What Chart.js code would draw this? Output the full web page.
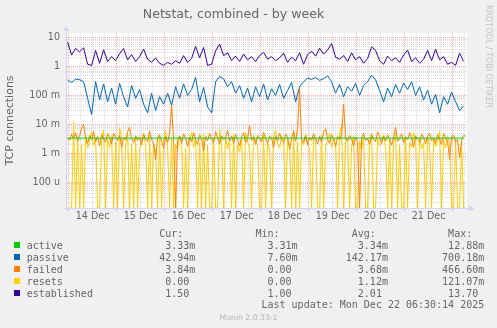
<!DOCTYPE html>
<html>
<head>
<meta charset="utf-8">
<script src="https://cdn.jsdelivr.net/npm/chart.js@4"></script>
<style>
  html, body { margin: 0; padding: 0; background: #f0f0f0; }
  #wrap { position: relative; width: 497px; height: 328px; overflow: hidden; }
  #chart { position: absolute; left: 0; top: 0; }
  #legend { position: absolute; left: 26.7px; top: 228px; margin: 0; font: 10px "DejaVu Sans Mono", monospace; color: #666; white-space: pre; line-height: 11.9px; }
  .sw { position: absolute; left: 14px; width: 6px; height: 6px; }
  #brand { position: absolute; left: 484px; top: 5px; writing-mode: vertical-rl; font: 8px "DejaVu Sans", sans-serif; color: #c4c4c4; white-space: nowrap; }
  #ver { position: absolute; left: 0; width: 497px; top: 313px; text-align: center; font: 7.7px "DejaVu Sans", sans-serif; color: #b4b4b4; }
</style>
</head>
<body>
<div id="wrap">
  <canvas id="chart" width="497" height="328"></canvas>
  <pre id="legend"></pre>
  <div id="brand">RRDTOOL / TOBI OETIKER</div>
  <div id="ver">Munin 2.0.33-1</div>
</div>
<script>
// hours counted from 13 Dec 00:00; some series read every 2 hours, others every hour
const sampleStart = 23.5;

const seriesNames = ['active', 'passive', 'failed', 'resets', 'established'];
const seriesColors = ['#00cc00', '#0066b3', '#ff8000', '#ffcc00', '#330099'];

// milli units, every 2 h
const active = [
  3.34, 3.33, 3.35, 3.34, 3.33, 3.36, 3.34, 3.33, 3.32, 3.34, 3.35, 3.33, 3.34, 3.34, 3.33, 3.35, 3.34, 3.32, 3.33, 3.34,
  3.35, 3.34, 3.33, 3.34, 3.36, 3.33, 3.34, 3.35, 3.33, 3.34, 3.32, 3.34, 3.35, 3.34, 3.33, 3.34, 3.35, 3.33, 3.34, 3.34,
  3.33, 3.35, 3.34, 3.33, 3.34, 3.36, 3.34, 3.33, 3.34, 3.35, 3.34, 3.33, 3.34, 3.32, 3.34, 3.35, 3.33, 3.34, 3.34, 3.33,
  3.35, 3.34, 3.33, 3.34, 3.35, 3.34, 3.33, 3.34, 3.36, 3.34, 3.33, 3.34, 3.35, 3.33, 3.34, 3.34, 3.33, 3.35, 3.34, 3.33,
  3.34, 3.35, 3.34, 3.33, 3.34, 3.34, 3.35, 3.33, 3.34, 3.34, 3.33, 3.35, 3.34, 3.33, 3.34, 3.34, 3.35, 3.33, 3.34, 3.33
];
// every 2 h
const passive = [
  0.34, 0.28, 0.37, 0.35, 0.30, 0.08, 0.022, 0.30, 0.07, 0.25, 0.06, 0.18, 0.05, 0.26, 0.09, 0.04, 0.22, 0.08, 0.16, 0.05,
  0.025, 0.12, 0.03, 0.09, 0.05, 0.12, 0.045, 0.20, 0.08, 0.25, 0.10, 0.16, 0.42, 0.06, 0.19, 0.04, 0.025, 0.30, 0.45, 0.38,
  0.20, 0.30, 0.12, 0.22, 0.08, 0.18, 0.06, 0.20, 0.09, 0.25, 0.07, 0.17, 0.10, 0.24, 0.08, 0.15, 0.28, 0.06, 0.20, 0.30,
  0.40, 0.36, 0.42, 0.33, 0.38, 0.48, 0.30, 0.12, 0.24, 0.09, 0.20, 0.14, 0.26, 0.10, 0.22, 0.30, 0.50, 0.35, 0.15, 0.06,
  0.18, 0.09, 0.24, 0.12, 0.27, 0.16, 0.30, 0.10, 0.20, 0.07, 0.15, 0.05, 0.11, 0.025, 0.09, 0.05, 0.13, 0.06, 0.03, 0.043
];
// milli units, hourly
const failed = [
  3.6, 2.8, 4.5, 3.2, 5.2, 2.6, 3.9, 7.5, 10, 3.4, 2.2, 4.1, 3.0, 5.6, 2.5, 3.8, 1.8, 4.4, 3.1, 2.4,
  4.8, 3.3, 2.1, 5.0, 3.6, 2.7, 4.2, 1.6, 3.5, 2.9, 5.4, 8.0, 3.2, 2.3, 4.0, 2.8, 3.7, 1.9, 4.6, 3.1,
  2.5, 5.8, 3.0, 2.2, 0.6, 3.4, 4.3, 2.6, 1.5, 3.8, 2.4, 5.0, 45, 3.0, 0, 2.8, 3.9, 2.2, 4.7, 3.3,
  1.7, 3.6, 2.5, 5.2, 3.0, 2.0, 4.4, 3.2, 1.2, 3.8, 2.7, 4.9, 3.1, 2.3, 5.6, 3.4, 2.1, 4.0, 2.9, 3.5,
  6.2, 2.6, 3.9, 2.2, 4.5, 3.0, 1.8, 3.6, 5.1, 2.4, 3.2, 9.0, 2.8, 3.7, 2.0, 4.2, 3.1, 2.5, 5.4, 3.3,
  2.2, 4.0, 3.4, 1.6, 3.8, 2.7, 5.0, 3.0, 2.3, 4.6, 3.5, 1.4, 3.2, 6.0, 2.6, 7.0, 180, 3.0, 2.4, 4.1,
  1.9, 3.6, 2.8, 4.8, 3.2, 2.1, 3.9, 2.5, 5.3, 7.0, 3.0, 2.2, 4.4, 3.3, 1.7, 3.8, 2.9, 4.6, 50, 3.4,
  2.6, 4.2, 3.1, 1.8, 3.7, 2.4, 0, 3.5, 4.9, 2.8, 3.2, 2.0, 4.5, 3.0, 2.5, 5.5, 3.6, 2.2, 3.9, 2.7,
  4.3, 3.1, 1.9, 3.6, 8.0, 2.6, 3.4, 4.7, 2.3, 3.8, 2.9, 5.2, 3.3, 1.6, 4.0, 3.0, 2.4, 4.6, 3.5, 2.1,
  3.9, 5.0, 2.7, 3.4, 2.2, 4.4, 3.1, 2.0, 4.8, 3.3, 2.6, 0.6, 3.7, 4.2, 2.4, 3.0, 0.7, 2.8, 4.1, 3.84
];
// milli units, hourly
const resets = [
  0, 0, 0, 12, 0, 3.5, 0, 2.0, 0, 4.0, 1.5, 2.6, 5.5, 1.8, 3.2, 0, 0, 2.8, 6.5, 0,
  3.0, 1.6, 4.2, 0, 2.4, 0, 8.0, 3.1, 0, 1.9, 4.6, 0, 2.2, 0, 3.6, 0, 1.4, 2.7, 5.0, 1.8,
  0, 3.8, 0, 2.1, 1.2, 0, 4.4, 0, 2.5, 6.0, 1.7, 0, 3.3, 0, 2.0, 1.3, 4.0, 2.6, 0, 1.5,
  0, 2.9, 5.2, 1.6, 3.4, 0, 2.3, 0, 4.8, 0, 1.9, 0, 0, 3.0, 0, 0, 6.8, 2.2, 0, 3.6,
  1.4, 2.8, 0, 4.5, 0, 2.0, 1.1, 3.2, 0, 5.4, 2.4, 1.6, 0, 3.9, 2.7, 1.8, 0, 0, 4.2, 0,
  2.5, 1.3, 0, 3.5, 6.2, 2.1, 1.5, 4.0, 2.8, 0, 3.3, 1.7, 0, 5.8, 0, 2.4, 0, 3.0, 1.9, 4.6,
  2.2, 1.4, 0, 3.7, 2.6, 0, 0, 4.3, 0, 1.8, 2.9, 5.1, 1.6, 3.4, 2.0, 0, 4.8, 9.0, 0, 2.5,
  3.2, 0, 1.7, 4.1, 0, 0, 2.6, 1.3, 3.8, 0, 0, 2.2, 5.0, 0, 0, 3.1, 1.8, 2.7, 4.4, 1.5,
  0, 3.0, 0, 2.1, 4.7, 0, 1.9, 0, 0, 3.5, 0, 2.4, 1.6, 5.2, 2.8, 0, 3.6, 1.4, 2.3, 0,
  4.0, 2.0, 0, 3.3, 1.7, 2.6, 5.6, 0, 2.9, 1.5, 3.8, 2.2, 0, 0, 3.1, 0, 0, 2.4, 0, 0
];
// every 2 h
const established = [
  7.0, 2.5, 4.3, 3.2, 4.5, 1.2, 1.1, 3.6, 1.3, 3.8, 1.5, 2.2, 1.6, 2.8, 4.2, 1.7, 2.6, 1.5, 2.2, 4.0,
  1.8, 1.4, 2.0, 1.3, 1.1, 1.4, 1.2, 1.6, 1.3, 2.4, 1.4, 1.9, 5.0, 2.0, 4.6, 1.1, 1.2, 3.5, 6.0, 2.4,
  3.0, 1.6, 2.3, 1.5, 2.7, 1.7, 2.2, 1.5, 2.4, 3.1, 1.8, 2.2, 1.6, 2.0, 2.9, 1.4, 2.1, 1.6, 3.0, 1.2,
  2.6, 3.4, 2.3, 4.3, 2.7, 3.8, 6.3, 2.1, 1.8, 2.4, 1.5, 3.0, 1.7, 2.2, 1.3, 1.9, 4.8, 3.6, 1.6, 1.2,
  2.3, 1.6, 2.0, 1.4, 2.5, 3.7, 1.5, 2.0, 1.3, 1.8, 3.6, 1.6, 4.0, 1.7, 2.2, 1.2, 1.4, 1.1, 2.9, 1.5
];

const statCur = ['3.33m', '42.94m', '3.84m', '0.00', '1.50'];
const statMin = ['3.31m', '7.60m', '0.00', '0.00', '1.00'];
const statAvg = ['3.34m', '142.17m', '3.68m', '1.12m', '2.01'];
const statMax = ['12.88m', '700.18m', '466.60m', '121.07m', '13.70'];
const lastUpdate = 'Last update: Mon Dec 22 06:30:14 2025';

const xTickHours = [36, 60, 84, 108, 132, 156, 180, 204];
const xTickLabels = ['14 Dec', '15 Dec', '16 Dec', '17 Dec', '18 Dec', '19 Dec', '20 Dec', '21 Dec'];
const yTickValues = [1e-4, 1e-3, 1e-2, 1e-1, 1, 10];
const yTickLabels = ['100 u', '1 m', '10 m', '100 m', '1', '10'];

const xMin = 23.2, xMax = 223.2;
const yMin = 1.27e-5, yMax = 14.5;

// zero can not sit on a log axis: it is drawn on the axis floor, as rrdtool does
const toPoints = (vals, unit, step) =>
  vals.map((v, i) => ({ x: sampleStart + i * step, y: v > 0 ? v * unit : yMin }));
const seriesValues = [
  toPoints(active, 1e-3, 2),
  toPoints(passive, 1, 2),
  toPoints(failed, 1e-3, 1),
  toPoints(resets, 1e-3, 1),
  toPoints(established, 1, 2)
];
// lower number is painted on top
const drawOrder = [2, 5, 3, 4, 1];

const yGrid = [];
for (let e = -5; e <= 1; e++) {
  for (let m = 1; m <= 9; m++) {
    const v = parseFloat((m * Math.pow(10, e)).toPrecision(6));
    if (v >= yMin && v <= yMax) yGrid.push(v);
  }
}
const xGrid = [];
for (let h = 24; h <= xMax; h += 6) xGrid.push(h);

const isDecade = v => Math.abs(Math.log10(v) - Math.round(Math.log10(v))) < 1e-9;
const majorGrid = 'rgba(255,0,0,0.32)';
const minorGrid = 'rgba(140,140,140,0.32)';

const frame = {
  id: 'frame',
  beforeDraw(c) {
    const a = c.chartArea, g = c.ctx;
    g.save();
    g.fillStyle = '#ffffff';
    g.fillRect(a.left, a.top, a.right - a.left, a.bottom - a.top);
    g.restore();
  },
  afterDraw(c) {
    const a = c.chartArea, g = c.ctx;
    g.save();
    g.strokeStyle = '#cfd6f8';
    g.fillStyle = '#cfd6f8';
    g.lineWidth = 1;
    g.beginPath();
    g.moveTo(a.left - 0.5, a.bottom + 3);
    g.lineTo(a.left - 0.5, a.top - 3);
    g.moveTo(a.left - 3, a.bottom + 0.5);
    g.lineTo(a.right + 2, a.bottom + 0.5);
    g.stroke();
    g.beginPath();
    g.moveTo(a.left - 3.5, a.top - 2);
    g.lineTo(a.left + 2.5, a.top - 2);
    g.lineTo(a.left - 0.5, a.top - 7);
    g.fill();
    g.beginPath();
    g.moveTo(a.right + 2, a.bottom - 2.5);
    g.lineTo(a.right + 2, a.bottom + 3.5);
    g.lineTo(a.right + 7, a.bottom + 0.5);
    g.fill();
    g.restore();
  }
};

const font = { family: 'DejaVu Sans', size: 9.6 };

new Chart(document.getElementById('chart').getContext('2d'), {
  type: 'line',
  data: {
    datasets: seriesNames.map((name, k) => ({
      label: name,
      data: seriesValues[k],
      borderColor: seriesColors[k],
      backgroundColor: seriesColors[k],
      borderWidth: 1,
      pointRadius: 0,
      tension: 0,
      fill: false,
      order: drawOrder[k]
    }))
  },
  options: {
    responsive: false,
    animation: false,
    events: [],
    layout: { padding: { left: 0, top: 0, right: 30, bottom: 0 } },
    plugins: {
      legend: { display: false },
      tooltip: { enabled: false },
      title: {
        display: true,
        text: 'Netstat, combined - by week',
        color: '#666',
        font: { family: 'DejaVu Sans', size: 12.6, weight: 'normal' },
        padding: { top: 7, bottom: 10.9 }
      }
    },
    scales: {
      x: {
        type: 'linear',
        min: xMin,
        max: xMax,
        afterBuildTicks: s => { s.ticks = xGrid.map(v => ({ value: v })); },
        afterFit: s => { s.height = 120; },
        ticks: {
          autoSkip: false,
          maxRotation: 0,
          padding: 0,
          color: '#666',
          font: font,
          callback: v => { const k = xTickHours.indexOf(v); return k >= 0 ? xTickLabels[k] : ''; }
        },
        grid: {
          color: ctx => ctx.tick && ctx.tick.value % 24 === 0 ? majorGrid : minorGrid,
          tickLength: 3,
          tickColor: ctx => ctx.tick && ctx.tick.value % 24 === 0 ? majorGrid : 'transparent'
        },
        border: { display: false, dash: [1, 1] }
      },
      y: {
        type: 'logarithmic',
        min: yMin,
        max: yMax,
        afterBuildTicks: s => { s.ticks = yGrid.map(v => ({ value: v })); },
        afterFit: s => { s.width = 67; },
        ticks: {
          autoSkip: false,
          padding: 3,
          color: '#666',
          font: font,
          callback: v => {
            const k = yTickValues.findIndex(t => Math.abs(t - v) / t < 1e-6);
            return k >= 0 ? yTickLabels[k] : '';
          }
        },
        grid: {
          color: ctx => ctx.tick && isDecade(ctx.tick.value) ? majorGrid : minorGrid,
          tickLength: 4,
          tickColor: 'transparent'
        },
        border: { display: false, dash: [1, 1] },
        title: {
          display: true,
          text: 'TCP connections',
          color: '#666',
          font: { family: 'DejaVu Sans', size: 11 },
          padding: { top: 4, bottom: 0 }
        }
      }
    }
  },
  plugins: [frame]
});

// legend table, rrdtool style columns
const fmt = v => /\d$/.test(v) ? v + ' ' : v;
const sp = n => ' '.repeat(n);
const lines = [sp(22) + 'Cur:' + sp(12) + 'Min:' + sp(12) + 'Avg:' + sp(12) + 'Max:'];
seriesNames.forEach((name, k) => {
  lines.push(name.padEnd(22) + fmt(statCur[k]).padStart(6) + fmt(statMin[k]).padStart(17) +
    fmt(statAvg[k]).padStart(15) + fmt(statMax[k]).padStart(16));
});
lines.push(sp(39) + lastUpdate);
document.getElementById('legend').textContent = lines.join('\n');

const wrap = document.getElementById('wrap');
seriesColors.forEach((c, k) => {
  const d = document.createElement('div');
  d.className = 'sw';
  d.style.background = c;
  d.style.top = (228 + 11.9 * (k + 1.5) - 3.5) + 'px';
  wrap.appendChild(d);
});
</script>
</body>
</html>
